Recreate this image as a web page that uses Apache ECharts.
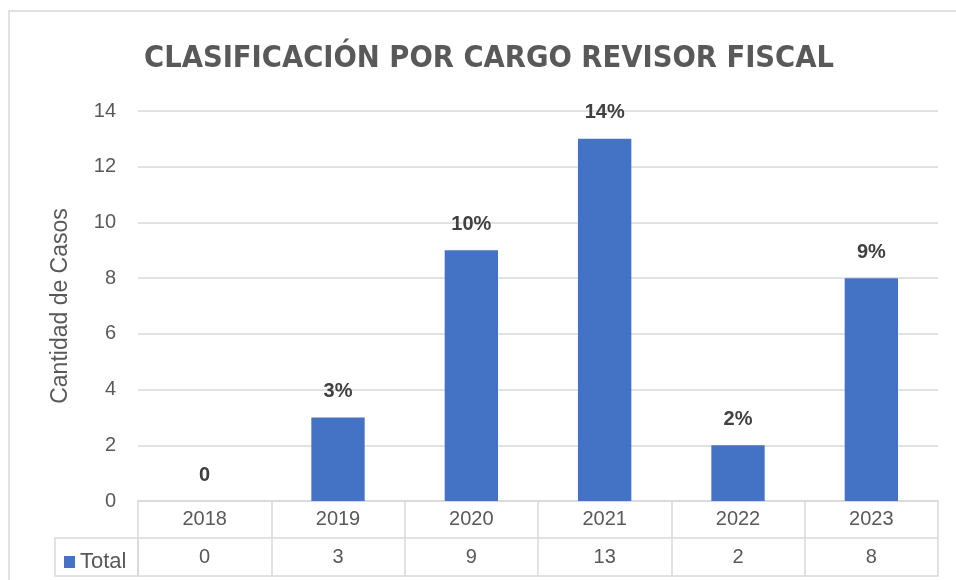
<!DOCTYPE html>
<html>
<head>
<meta charset="utf-8">
<script src="https://cdn.jsdelivr.net/npm/echarts@6/dist/echarts.min.js"></script>
<style>
  html, body { margin: 0; padding: 0; background: #fff; }
  #chart { width: 956px; height: 580px; }
</style>
</head>
<body>
<div id="chart"></div>
<script>
// datos
var years = ['2018', '2019', '2020', '2021', '2022', '2023'];
var totals = [0, 3, 9, 13, 2, 8];
var pctLabels = ['0', '3%', '10%', '14%', '2%', '9%'];
var yTicks = [0, 2, 4, 6, 8, 10, 12, 14];

var grey = '#d9d9d9';
var txt = '#595959';
var font = 'Liberation Sans';

var myChart = echarts.init(document.getElementById('chart'));
var option = {
    animation: false,
    title: {
        text: 'CLASIFICACIÓN POR CARGO REVISOR FISCAL',
        left: 484,
        textAlign: 'center',
        top: 39,
        textStyle: {
            fontFamily: '"DejaVu Sans Condensed", "Liberation Sans"',
            fontSize: 30.5,
            fontWeight: 'bold',
            color: txt
        }
    },
    legend: {
        left: 59,
        top: 546,
        icon: 'rect',
        itemWidth: 11,
        itemHeight: 12,
        itemGap: 4,
        selectedMode: false,
        textStyle: { fontFamily: font, fontSize: 22, color: txt, padding: [0, 0, 0, 0] },
        data: ['Total']
    },
    grid: { left: 138, right: 18, top: 111, bottom: 79 },
    xAxis: [{
        type: 'category',
        data: years,
        position: 'bottom',
        axisLine: { lineStyle: { color: grey, width: 1.5 } },
        axisTick: { show: true, length: 75, lineStyle: { color: grey, width: 1.5 } },
        axisLabel: { margin: 8, fontFamily: font, fontSize: 20, color: txt }
    }, {
        type: 'category',
        data: years,
        position: 'bottom',
        offset: 37,
        axisLine: { lineStyle: { color: grey, width: 1.5 } },
        axisTick: { show: false },
        axisLabel: {
            margin: 9, fontFamily: font, fontSize: 20, color: txt,
            formatter: function(v, i) { return String(totals[i]); }
        }
    }, {
        type: 'category',
        data: years,
        position: 'bottom',
        offset: 75,
        axisLine: { lineStyle: { color: grey, width: 1.5 } },
        axisTick: { show: false },
        axisLabel: { show: false }
    }],
    yAxis: {
        type: 'value',
        min: yTicks[0],
        max: yTicks[yTicks.length - 1],
        interval: 2,
        name: 'Cantidad de Casos',
        nameLocation: 'middle',
        nameGap: 66,
        nameTextStyle: { fontFamily: font, fontSize: 23, color: txt },
        axisLine: { show: false },
        axisTick: { show: false },
        axisLabel: { margin: 22, fontFamily: font, fontSize: 20, color: txt },
        splitLine: { lineStyle: { color: grey, width: 1.5 } }
    },
    series: [{
        name: 'Total',
        type: 'bar',
        barWidth: '40%',
        data: totals,
        itemStyle: { color: '#4472c4' },
        label: {
            show: true,
            position: 'top',
            distance: 16,
            fontFamily: font,
            fontSize: 20,
            fontWeight: 'bold',
            color: '#404040',
            formatter: function(p) { return pctLabels[p.dataIndex]; }
        }
    }],
    graphic: [{
        type: 'rect',
        shape: { x: 9, y: 11, width: 980, height: 620 },
        style: { fill: 'none', stroke: grey, lineWidth: 1.5 },
        silent: true
    }, {
        type: 'rect',
        shape: { x: 55, y: 538, width: 83, height: 38 },
        style: { fill: 'none', stroke: grey, lineWidth: 1.5 },
        silent: true
    }]
};
myChart.setOption(option);
</script>
</body>
</html>
